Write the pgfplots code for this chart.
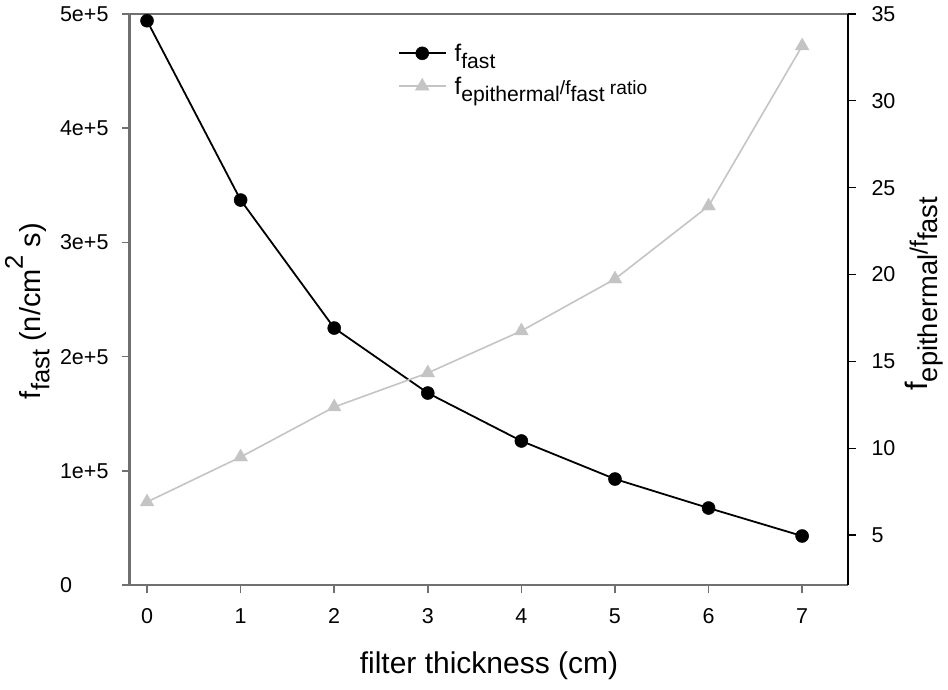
\documentclass[border=0pt]{standalone}
\usepackage{pgfplots}
\pgfplotsset{compat=1.18}
\usepackage{pgfplotstable}
\usepackage{graphicx}
\usepackage{fontspec}
\setmainfont{Liberation Sans}

\definecolor{spinegray}{HTML}{707070}
\definecolor{ratiogray}{HTML}{C4C4C4}

% lowered, slightly smaller text (SigmaPlot-style subscript)
\newcommand{\lo}[1]{\raisebox{-0.32em}{\scalebox{0.88}{#1}}}
\newcommand{\hi}[1]{\raisebox{0.6em}{\scalebox{0.88}{#1}}}
\newcommand{\sm}[1]{\scalebox{0.8}{#1}}

\pgfplotstableread{
x fast
0 494100
1 337100
2 225000
3 168100
4 126100
5 92800
6 67400
7 42900
}\fasttable

\pgfplotstableread{
x ratio
0 6.90
1 9.49
2 12.37
3 14.33
4 16.75
5 19.74
6 23.94
7 33.16
}\ratiotable

\pgfplotsset{
  twin/.style={
    at={(130pt,104pt)}, anchor=south west,
    scale only axis, width=718pt, height=571pt,
    xmin=-0.182, xmax=7.49,
    clip=false,
    tick align=outside,
    major tick length=8pt,
    ticklabel style={font=\fontsize{21.5}{25}\selectfont},
  },
  fastline/.style={black, line width=1.8pt, mark=*, mark size=6.5pt,
    mark options={solid, fill=black, draw=black, line width=0.5pt}},
  ratioline/.style={ratiogray, line width=1.6pt, mark=triangle*, mark size=8pt,
    mark options={solid, fill=ratiogray, draw=ratiogray, line width=0.3pt}},
}

\begin{document}
\begin{tikzpicture}
\path[use as bounding box] (0pt,0pt) rectangle (948pt,689pt);

% left axis: fast neutron flux
\begin{axis}[
  twin,
  ymin=0, ymax=500000,
  axis x line*=bottom, axis y line*=left,
  x axis line style={spinegray, line width=2pt},
  y axis line style={spinegray, line width=3pt},
  xtick={0,1,2,3,4,5,6,7},
  xticklabels={0,1,2,3,4,5,6,7},
  xticklabel style={yshift=-12pt},
  ytick={0,100000,200000,300000,400000,500000},
  yticklabels={0\phantom{e+5},1e+5,2e+5,3e+5,4e+5,5e+5},
  yticklabel style={xshift=-10pt},
  scaled y ticks=false,
  xtick style={spinegray, line width=1.5pt},
  ytick style={spinegray, line width=1.5pt},
  xlabel={filter thickness (cm)},
  every axis x label/.style={at={(axis description cs:0.5,-0.141)}, anchor=center,
    font=\fontsize{30}{36}\selectfont},
  ylabel={f\lo{fast} (n/cm\hi{2} s)},
  every axis y label/.style={at={(axis description cs:-0.143,0.48)}, anchor=center, rotate=90,
    font=\fontsize{29}{34}\selectfont},
]
\addplot[fastline] table[x=x, y=fast] {\fasttable};
\draw[spinegray, line width=2pt] (rel axis cs:0,1) -- (rel axis cs:1,1);
\end{axis}

% right axis: epithermal / fast ratio
\begin{axis}[
  twin,
  ymin=2.12, ymax=35,
  axis x line=none, axis y line*=right,
  y axis line style={black, line width=1.6pt},
  ytick={5,10,15,20,25,30,35},
  yticklabels={5,10,15,20,25,30,35},
  yticklabel style={xshift=12pt},
  ytick style={black, line width=1.2pt},
  ylabel={f\lo{epithermal}\sm{/f}\lo{fast}},
  every axis y label/.style={at={(axis description cs:1.106,0.51)}, anchor=center, rotate=90,
    font=\fontsize{31}{36}\selectfont},
  legend cell align=left,
  legend image code/.code={%
    \draw[mark repeat=2, mark phase=2] plot coordinates {(0pt,0pt) (23.5pt,0pt) (47pt,0pt)};},
  legend style={draw=none, fill=none, at={(axis description cs:0.37,0.955)}, anchor=north west,
    font=\fontsize{24}{28}\selectfont, row sep=10pt, inner sep=2pt,
    /tikz/every odd column/.append style={column sep=6pt}},
]
\addlegendimage{fastline}
\addlegendentry{f\lo{fast}}
\addplot[ratioline] table[x=x, y=ratio] {\ratiotable};
\addlegendentry{f\lo{epithermal}\sm{/f}\lo{fast}\sm{ ratio}}
\end{axis}
\end{tikzpicture}
\end{document}
